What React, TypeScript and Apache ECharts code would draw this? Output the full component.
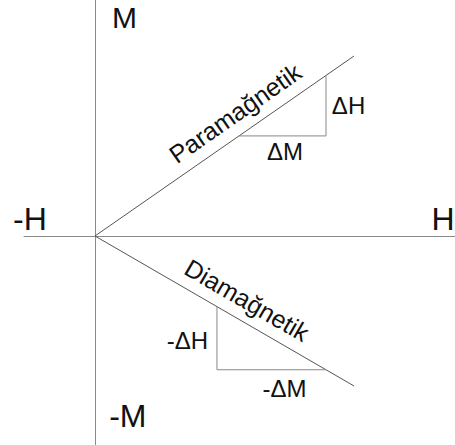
import React, { useEffect, useRef } from "react";
import * as echarts from "echarts";

// Axis extent (H horizontally, M vertically)
const hRange = [-2.74, 13.9];
const mRange = [-11.61, 13.11];

// Paramagnetic line and its slope triangle
const paraH = [0, 10];
const paraM = [0, 10];
const paraTriH = [5.56, 8.92, 8.92];
const paraTriM = [5.56, 5.56, 8.92];

// Diamagnetic line and its slope triangle
const diaH = [0, 10];
const diaM = [0, -8.33];
const diaTriH = [4.71, 4.71, 8.92];
const diaTriM = [-3.93, -7.43, -7.43];

// Text labels
const labelTexts = ["M", "-M", "-H", "H", "ΔH", "ΔM", "-ΔH", "-ΔM", "Paramağnetik", "Diamağnetik"];
const labelH = [1.14, 1.27, -2.51, 13.44, 9.79, 7.34, 3.57, 7.32, 5.41, 5.87];
const labelM = [12.12, -10.0, 0.94, 0.97, 7.25, 4.72, -5.83, -8.47, 6.83, -3.56];
const labelSize = [30, 32, 32, 32, 24, 24, 24, 24, 25, 25];
const labelRotate = [0, 0, 0, 0, 0, 0, 0, 0, 34.8, -30];

const FONT = "'Liberation Sans', Arial, sans-serif";

export default function App() {
  const ref = useRef<HTMLDivElement>(null);

  useEffect(() => {
    document.body.style.margin = "0";
    const chart = echarts.init(ref.current!, null, { renderer: "svg" });
    const zip = (a: number[], b: number[]) => a.map((v, i) => [v, b[i]]);
    const lineSeries = (h: number[], m: number[], color: string) => ({
      type: "line",
      data: zip(h, m),
      symbol: "none",
      silent: true,
      lineStyle: { color, width: 1 },
    });
    chart.setOption({
      animation: false,
      grid: { left: 24, right: 0, top: 0, bottom: 0, outerBoundsMode: "none" },
      xAxis: {
        type: "value",
        min: hRange[0],
        max: hRange[1],
        axisLine: { show: true, onZero: true, lineStyle: { color: "#8a8a8a", width: 1 } },
        axisTick: { show: false },
        axisLabel: { show: false },
        splitLine: { show: false },
      },
      yAxis: {
        type: "value",
        min: mRange[0],
        max: mRange[1],
        axisLine: { show: true, onZero: true, lineStyle: { color: "#8a8a8a", width: 1 } },
        axisTick: { show: false },
        axisLabel: { show: false },
        splitLine: { show: false },
      },
      series: [
        lineSeries(paraH, paraM, "#555"),
        lineSeries(diaH, diaM, "#555"),
        lineSeries(paraTriH, paraTriM, "#888"),
        lineSeries(diaTriH, diaTriM, "#888"),
        {
          type: "scatter",
          symbolSize: 0,
          silent: true,
          itemStyle: { opacity: 1 },
          data: labelTexts.map((t, i) => ({
            name: t,
            value: [labelH[i], labelM[i]],
            label: {
              rotate: labelRotate[i],
              fontSize: labelSize[i],
              lineHeight: Math.round(labelSize[i] * 0.85),
            },
          })),
          label: {
            show: true,
            position: "inside",
            formatter: (p: any) => p.name,
            color: "#111",
            opacity: 1,
            fontFamily: FONT,
            align: "center",
            verticalAlign: "middle",
          },
        },
      ],
    });
    return () => chart.dispose();
  }, []);

  return <div ref={ref} style={{ width: 455, height: 445 }} />;
}
